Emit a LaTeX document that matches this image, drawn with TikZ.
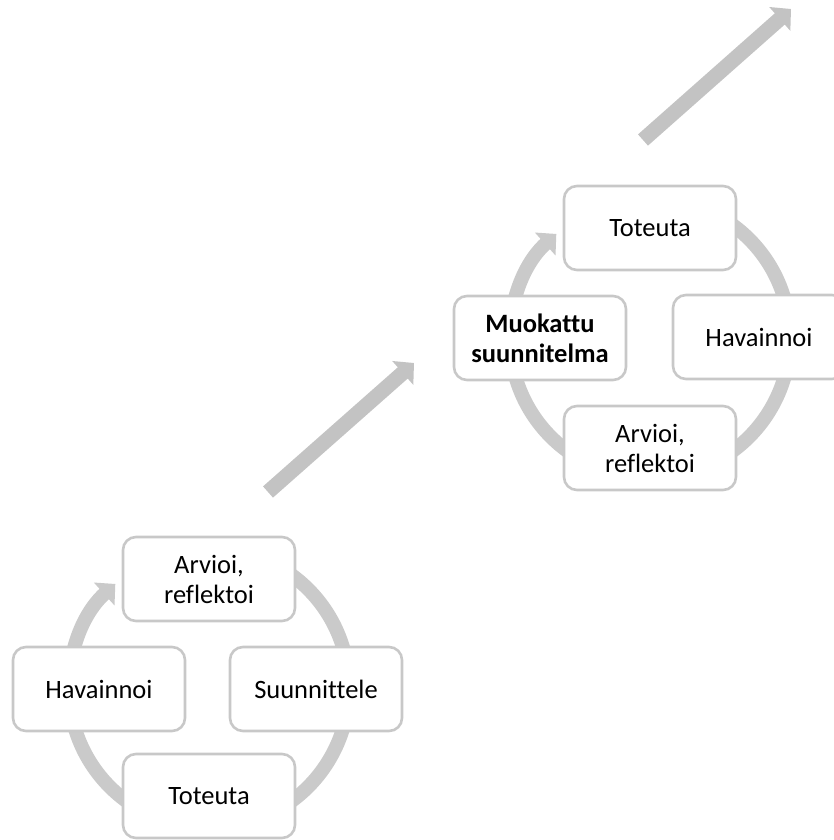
\documentclass[tikz,border=0pt]{standalone}
\usepackage{fontspec}
\setmainfont{Carlito}[Ligatures=NoCommon]
\usetikzlibrary{arrows.meta}
\definecolor{boxline}{RGB}{200,200,200}
\definecolor{ringgray}{RGB}{202,202,202}
\definecolor{flowgray}{RGB}{195,195,195}
\begin{document}
\begin{tikzpicture}[x=1pt,y=-1pt,
  stage/.style={draw=boxline, line width=2.6pt, fill=white, rounded corners=13pt,
    minimum width=172pt, minimum height=84pt, align=center, inner sep=0pt,
    font=\fontsize{26.5}{30}\selectfont},
  ringarrow/.style={draw=ringgray, line width=14pt,
    -{Triangle[length=15pt,width=30pt]}},
  progress/.style={draw=flowgray, line width=15pt,
    -{Triangle[length=15pt,width=31pt]}}
]
\useasboundingbox (0,0) rectangle (834,840);

% centres of the two cycles
\coordinate (lc) at (209,688);
\coordinate (uc) at (650,338);

% circular cycle arrows (drawn beneath the boxes)
\draw[ringarrow] (lc) ++(-100:140) arc[start angle=-100, end angle=228, radius=140];
\draw[ringarrow] (uc) ++(-100:140) arc[start angle=-100, end angle=228, radius=140];

% progression arrows between the cycles
\coordinate (p1s) at (268,492);
\coordinate (p1e) at (414,363);
\coordinate (p2s) at (643,140);
\coordinate (p2e) at (791,9);
\draw[progress] (p1s) -- (p1e);
\draw[progress] (p2s) -- (p2e);

% first cycle
\node[stage] (lTop)    at (209,579) {Arvioi,\\reflektoi};
\node[stage] (lLeft)   at (99,689)  {Havainnoi};
\node[stage] (lRight)  at (316,689) {Suunnittele};
\node[stage] (lBottom) at (209,796) {Toteuta};

% second cycle
\node[stage] (uTop)    at (650,228) {Toteuta};
\node[stage] (uLeft)   at (540,338) {\bfseries Muokattu\\\bfseries suunnitelma};
\node[stage] (uRight)  at (759,337) {Havainnoi};
\node[stage] (uBottom) at (650,448) {Arvioi,\\reflektoi};
\end{tikzpicture}
\end{document}
